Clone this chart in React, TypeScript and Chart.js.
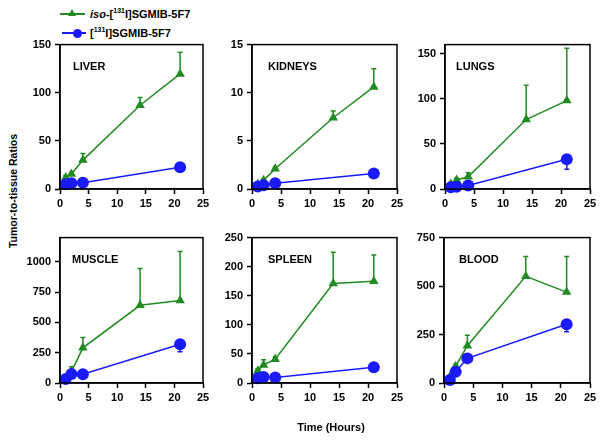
import React, { useEffect, useRef } from "react";
import { Chart, registerables } from "chart.js";
Chart.register(...registerables);

const GREEN = "#218a21";
const BLUE = "#1a1aff";
const FONT = "'Liberation Sans', Arial, sans-serif";

const hoursIso = [1, 2, 4, 14, 21];
const hoursStd = [1, 2, 4, 21];

const panelNames = ["LIVER", "KIDNEYS", "LUNGS", "MUSCLE", "SPLEEN", "BLOOD"];
const yMax = [150, 15, 160, 1200, 250, 750];
const yTickLiver = [0, 50, 100, 150];
const yTickKidneys = [0, 5, 10, 15];
const yTickLungs = [0, 50, 100, 150];
const yTickMuscle = [0, 250, 500, 750, 1000];
const yTickSpleen = [0, 50, 100, 150, 200, 250];
const yTickBlood = [0, 250, 500, 750];
const yTicks = [yTickLiver, yTickKidneys, yTickLungs, yTickMuscle, yTickSpleen, yTickBlood];
const xTicks = [0, 5, 10, 15, 20, 25];

// iso-[131I]SGMIB-5F7 (green), mean and upper error
const isoLiver = [12, 15.5, 30, 87, 119.5];
const isoLiverErr = [2, 2, 7, 8, 22.5];
const isoKidneys = [0.5, 0.9, 2.1, 7.4, 10.6];
const isoKidneysErr = [0.1, 0.1, 0.2, 0.7, 1.9];
const isoLungs = [5.5, 10, 13.5, 77, 98];
const isoLungsErr = [1, 2, 4.5, 38, 58];
const isoMuscle = [39, 94, 290, 641, 680];
const isoMuscleErr = [5, 40, 85, 305, 405];
const isoSpleen = [21, 31, 41, 171, 175];
const isoSpleenErr = [3, 9, 4, 54, 45];
const isoBlood = [32, 87, 192, 550, 469];
const isoBloodErr = [5, 10, 54, 102, 183];

// [131I]SGMIB-5F7 (blue), mean and lower error
const stdLiver = [5, 6, 6.5, 22.5];
const stdLiverErr = [0.5, 0.5, 0.5, 1.5];
const stdKidneys = [0.25, 0.4, 0.6, 1.6];
const stdKidneysErr = [0.05, 0.05, 0.1, 0.15];
const stdLungs = [2, 2.5, 4, 33];
const stdLungsErr = [0.5, 0.5, 1, 11];
const stdMuscle = [33, 74, 72, 320];
const stdMuscleErr = [5, 10, 10, 62];
const stdSpleen = [8, 10.5, 9.5, 27];
const stdSpleenErr = [1, 1, 1, 2];
const stdBlood = [15, 58, 127, 303];
const stdBloodErr = [3, 5, 8, 39];

const isoVals = [isoLiver, isoKidneys, isoLungs, isoMuscle, isoSpleen, isoBlood];
const isoErrs = [isoLiverErr, isoKidneysErr, isoLungsErr, isoMuscleErr, isoSpleenErr, isoBloodErr];
const stdVals = [stdLiver, stdKidneys, stdLungs, stdMuscle, stdSpleen, stdBlood];
const stdErrs = [stdLiverErr, stdKidneysErr, stdLungsErr, stdMuscleErr, stdSpleenErr, stdBloodErr];

// chart-area boxes (left, top, right, bottom) in page pixels
const boxes = [
  [60, 44, 203, 189],
  [252, 44, 397, 189],
  [445, 44, 590, 189],
  [60, 237, 203, 383],
  [252, 237, 397, 383],
  [444, 237, 590, 383],
];

const Y_AXIS_W = 40;
const X_AXIS_H = 25;
const PAD_T = 10;
const PAD_R = 12;

const panelPlugin = {
  id: "panelDecor",
  beforeDatasetsDraw(chart: any, _args: any, opts: any) {
    const ctx = chart.ctx;
    const xs = chart.scales.x;
    const ys = chart.scales.y;
    const drawErr = (xv: number[], yv: number[], ev: number[], dir: number, color: string) => {
      ctx.save();
      ctx.strokeStyle = color;
      ctx.lineWidth = 1.5;
      for (let i = 0; i < xv.length; i++) {
        const px = xs.getPixelForValue(xv[i]);
        const p0 = ys.getPixelForValue(yv[i]);
        const p1 = ys.getPixelForValue(yv[i] + dir * ev[i]);
        ctx.beginPath();
        ctx.moveTo(px, p0);
        ctx.lineTo(px, p1);
        ctx.moveTo(px - 2.5, p1);
        ctx.lineTo(px + 2.5, p1);
        ctx.stroke();
      }
      ctx.restore();
    };
    drawErr(hoursIso, opts.iso, opts.isoErr, 1, GREEN);
    drawErr(hoursStd, opts.std, opts.stdErr, -1, BLUE);
  },
  afterDraw(chart: any, _args: any, opts: any) {
    const ctx = chart.ctx;
    const a = chart.chartArea;
    ctx.save();
    ctx.strokeStyle = "#000";
    ctx.lineWidth = 1.5;
    ctx.strokeRect(a.left, a.top, a.right - a.left, a.bottom - a.top);
    ctx.fillStyle = "#000";
    ctx.font = `bold 11px ${FONT}`;
    ctx.textBaseline = "middle";
    ctx.textAlign = "left";
    ctx.fillText(opts.label, a.left + opts.labelDx, a.top + 22);
    ctx.restore();
  },
};

const labelDx = [13, 16, 11, 12, 16, 15];

function Panel({ idx }: { idx: number }) {
  const ref = useRef<HTMLCanvasElement>(null);
  const [l, t, r, b] = boxes[idx];
  const w = r - l + Y_AXIS_W + PAD_R;
  const h = b - t + PAD_T + X_AXIS_H;
  useEffect(() => {
    if (!ref.current) return;
    const tickFont = { family: FONT, size: 11, weight: "bold" as const };
    const chart = new Chart(ref.current, {
      type: "line",
      data: {
        datasets: [
          {
            data: hoursStd.map((x, i) => ({ x, y: stdVals[idx][i] })),
            borderColor: BLUE,
            backgroundColor: BLUE,
            borderWidth: 1.5,
            pointStyle: "circle",
            pointRadius: 6,
            pointBorderWidth: 0,
            clip: false,
          },
          {
            data: hoursIso.map((x, i) => ({ x, y: isoVals[idx][i] })),
            borderColor: GREEN,
            backgroundColor: GREEN,
            borderWidth: 1.5,
            pointStyle: "triangle",
            pointRadius: 5.5,
            pointBorderWidth: 0,
            clip: false,
          },
        ],
      },
      options: {
        animation: false,
        responsive: false,
        maintainAspectRatio: false,
        layout: { padding: { top: PAD_T, right: PAD_R, left: 0, bottom: 0 } },
        plugins: {
          legend: { display: false },
          tooltip: { enabled: false },
          panelDecor: {
            label: panelNames[idx],
            labelDx: labelDx[idx],
            iso: isoVals[idx],
            isoErr: isoErrs[idx],
            std: stdVals[idx],
            stdErr: stdErrs[idx],
          },
        } as any,
        scales: {
          x: {
            type: "linear",
            min: xTicks[0],
            max: xTicks[xTicks.length - 1],
            afterBuildTicks: (s: any) => {
              s.ticks = xTicks.map((v) => ({ value: v }));
            },
            ticks: { color: "#000", font: tickFont, padding: 3, maxRotation: 0, callback: (v: any) => String(v) },
            grid: {
              display: true,
              drawOnChartArea: false,
              drawTicks: true,
              tickLength: 5,
              tickColor: "#000",
              tickWidth: 1.5,
            },
            border: { display: true, color: "#000", width: 1.5 },
            afterFit: (s: any) => {
              s.height = X_AXIS_H;
            },
          },
          y: {
            type: "linear",
            min: 0,
            max: yMax[idx],
            afterBuildTicks: (s: any) => {
              s.ticks = yTicks[idx].map((v) => ({ value: v }));
            },
            ticks: {
              color: "#000",
              font: tickFont,
              padding: 4,
              callback: (v: any) => String(v),
            },
            grid: {
              display: true,
              drawOnChartArea: false,
              drawTicks: true,
              tickLength: 5,
              tickColor: "#000",
              tickWidth: 1.5,
            },
            border: { display: true, color: "#000", width: 1.5 },
            afterFit: (s: any) => {
              s.width = Y_AXIS_W;
            },
          },
        },
      } as any,
      plugins: [panelPlugin],
    });
    return () => chart.destroy();
  }, [idx]);
  return (
    <canvas
      ref={ref}
      width={w}
      height={h}
      style={{
        position: "absolute",
        left: l - Y_AXIS_W,
        top: t - PAD_T,
        width: w,
        height: h,
      }}
    />
  );
}

const legendText: React.CSSProperties = {
  position: "absolute",
  left: 90,
  font: `bold 11px ${FONT}`,
  color: "#000",
  lineHeight: "12px",
  whiteSpace: "nowrap",
};
const supStyle: React.CSSProperties = { fontSize: "7px", verticalAlign: "5px", lineHeight: 0 };

export default function App() {
  return (
    <div
      style={{
        position: "absolute",
        left: 0,
        top: 0,
        width: 604,
        height: 440,
        background: "#fff",
        overflow: "hidden",
        fontFamily: FONT,
      }}
    >
      {/* legend */}
      <div style={{ position: "absolute", left: 60, top: 13, width: 25, height: 2, background: GREEN }} />
      <div
        style={{
          position: "absolute",
          left: 68,
          top: 9,
          width: 0,
          height: 0,
          borderLeft: "4px solid transparent",
          borderRight: "4px solid transparent",
          borderBottom: `7px solid ${GREEN}`,
        }}
      />
      <div style={{ ...legendText, top: 8 }}>
        <i>iso</i>-[<sup style={supStyle}>131</sup>I]SGMIB-5F7
      </div>
      <div style={{ position: "absolute", left: 62, top: 32, width: 24, height: 2, background: BLUE }} />
      <div
        style={{
          position: "absolute",
          left: 73,
          top: 28.5,
          width: 9,
          height: 9,
          borderRadius: "50%",
          background: BLUE,
        }}
      />
      <div style={{ ...legendText, top: 27 }}>
        [<sup style={supStyle}>131</sup>I]SGMIB-5F7
      </div>

      {boxes.map((_, i) => (
        <Panel key={i} idx={i} />
      ))}

      {/* axis titles */}
      <div
        style={{
          position: "absolute",
          left: 13,
          top: 191,
          transform: "translate(-50%, -50%) rotate(-90deg)",
          font: `bold 10.5px ${FONT}`,
          whiteSpace: "nowrap",
          color: "#000",
        }}
      >
        Tumor-to-tissue Ratios
      </div>
      <div
        style={{
          position: "absolute",
          left: 331,
          top: 427,
          transform: "translate(-50%, -50%)",
          font: `bold 11px ${FONT}`,
          whiteSpace: "nowrap",
          color: "#000",
        }}
      >
        Time (Hours)
      </div>
    </div>
  );
}
